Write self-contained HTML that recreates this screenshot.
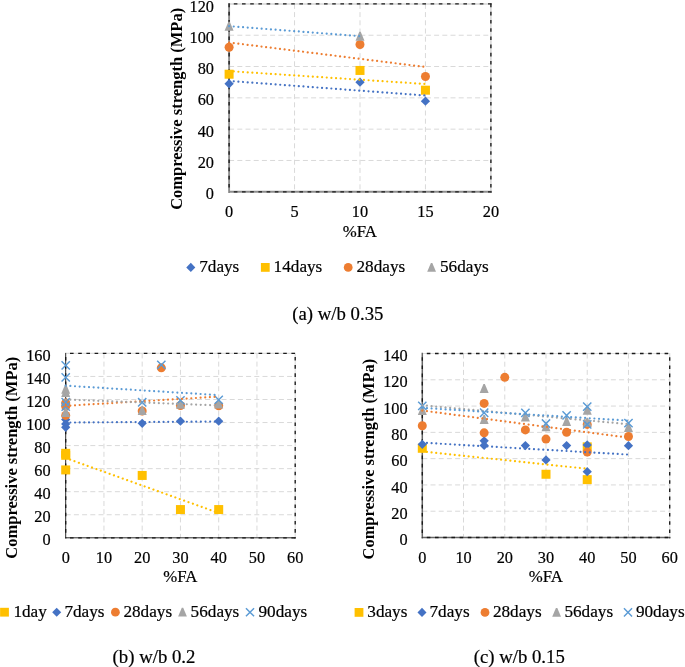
<!DOCTYPE html>
<html><head><meta charset="utf-8"><style>
html,body{margin:0;padding:0;background:#fff;}
svg{display:block;}
text{font-family:"Liberation Serif", serif;fill:#000;}
svg{will-change:transform} text{stroke:#000;stroke-width:0.2px} text[font-weight="bold"]{stroke:none}
</style></head><body>
<svg width="685" height="667" viewBox="0 0 685 667">
<rect width="685" height="667" fill="#fff"/>
<line x1="229.1" y1="160.48" x2="490.9" y2="160.48" stroke="#D9D9D9" stroke-width="1" stroke-dasharray="5 3.2"/>
<line x1="229.1" y1="129.17" x2="490.9" y2="129.17" stroke="#D9D9D9" stroke-width="1" stroke-dasharray="5 3.2"/>
<line x1="229.1" y1="97.85" x2="490.9" y2="97.85" stroke="#D9D9D9" stroke-width="1" stroke-dasharray="5 3.2"/>
<line x1="229.1" y1="66.53" x2="490.9" y2="66.53" stroke="#D9D9D9" stroke-width="1" stroke-dasharray="5 3.2"/>
<line x1="229.1" y1="35.22" x2="490.9" y2="35.22" stroke="#D9D9D9" stroke-width="1" stroke-dasharray="5 3.2"/>
<line x1="294.55" y1="3.9" x2="294.55" y2="191.8" stroke="#D9D9D9" stroke-width="1" stroke-dasharray="5 3.2"/>
<line x1="360.00" y1="3.9" x2="360.00" y2="191.8" stroke="#D9D9D9" stroke-width="1" stroke-dasharray="5 3.2"/>
<line x1="425.45" y1="3.9" x2="425.45" y2="191.8" stroke="#D9D9D9" stroke-width="1" stroke-dasharray="5 3.2"/>
<path d="M229.1 3.9H490.9V191.8" fill="none" stroke="#D6D6D6" stroke-width="1.5"/>
<path d="M490.9 191.8H229.1V3.9" fill="none" stroke="#8E8E8E" stroke-width="1.9" stroke-linecap="square"/>
<line x1="229.1" y1="3.9" x2="491.7" y2="3.9" stroke="#1a1a1a" stroke-width="1.35" stroke-dasharray="3.6 4.6" stroke-dashoffset="3.499999999999999"/>
<line x1="229.1" y1="191.8" x2="491.7" y2="191.8" stroke="#1a1a1a" stroke-width="1.35" stroke-dasharray="3.6 4.6" stroke-dashoffset="3.499999999999999"/>
<line x1="229.1" y1="3.60" x2="229.1" y2="192.60000000000002" stroke="#1a1a1a" stroke-width="1.35" stroke-dasharray="3.6 4.6"/>
<line x1="490.9" y1="3.60" x2="490.9" y2="192.60000000000002" stroke="#1a1a1a" stroke-width="1.35" stroke-dasharray="3.6 4.6"/>
<path d="M229.10 79.12L233.73 83.76L229.10 88.39L224.47 83.76Z" fill="#4472C4"/>
<path d="M360.00 77.56L364.63 82.19L360.00 86.83L355.37 82.19Z" fill="#4472C4"/>
<path d="M425.45 96.50L430.08 101.14L425.45 105.77L420.81 101.14Z" fill="#4472C4"/>
<rect x="224.60" y="69.71" width="9.00" height="9.00" fill="#FFC000"/>
<rect x="355.50" y="65.95" width="9.00" height="9.00" fill="#FFC000"/>
<rect x="420.95" y="85.68" width="9.00" height="9.00" fill="#FFC000"/>
<circle cx="229.10" cy="47.27" r="4.50" fill="#ED7D31"/>
<circle cx="360.00" cy="44.46" r="4.50" fill="#ED7D31"/>
<circle cx="425.45" cy="76.55" r="4.50" fill="#ED7D31"/>
<path d="M228.40 21.63L229.80 21.63L233.60 30.63L224.60 30.63Z" fill="#A5A5A5"/>
<path d="M359.30 31.66L360.70 31.66L364.50 40.66L355.50 40.66Z" fill="#A5A5A5"/>
<line x1="229.10" y1="80.94" x2="425.45" y2="95.50" stroke="#4472C4" stroke-width="2.2" stroke-dasharray="0.01 4.65" stroke-linecap="round"/>
<line x1="229.10" y1="71.12" x2="425.45" y2="84.00" stroke="#FFC000" stroke-width="2.2" stroke-dasharray="0.01 4.65" stroke-linecap="round"/>
<line x1="229.10" y1="42.49" x2="425.45" y2="66.98" stroke="#ED7D31" stroke-width="2.2" stroke-dasharray="0.01 4.65" stroke-linecap="round"/>
<line x1="229.10" y1="26.13" x2="360.00" y2="36.16" stroke="#5B9BD5" stroke-width="2.2" stroke-dasharray="0.01 4.65" stroke-linecap="round"/>
<text x="214.0" y="199.40" text-anchor="end" font-size="16.3">0</text>
<text x="214.0" y="168.08" text-anchor="end" font-size="16.3">20</text>
<text x="214.0" y="136.77" text-anchor="end" font-size="16.3">40</text>
<text x="214.0" y="105.45" text-anchor="end" font-size="16.3">60</text>
<text x="214.0" y="74.13" text-anchor="end" font-size="16.3">80</text>
<text x="214.0" y="42.82" text-anchor="end" font-size="16.3">100</text>
<text x="214.0" y="11.50" text-anchor="end" font-size="16.3">120</text>
<text x="229.10" y="217.4" text-anchor="middle" font-size="16.3">0</text>
<text x="294.55" y="217.4" text-anchor="middle" font-size="16.3">5</text>
<text x="360.00" y="217.4" text-anchor="middle" font-size="16.3">10</text>
<text x="425.45" y="217.4" text-anchor="middle" font-size="16.3">15</text>
<text x="490.90" y="217.4" text-anchor="middle" font-size="16.3">20</text>
<text x="359.9" y="236.6" text-anchor="middle" font-size="16.8">%FA</text>
<text transform="translate(181.6,209.8) rotate(-90)" font-size="16.5" font-weight="bold">Compressive strength (MPa)</text>
<path d="M190.80 262.87L195.33 267.40L190.80 271.93L186.27 267.40Z" fill="#4472C4"/>
<text x="199.20" y="271.8" font-size="17.2">7days</text>
<rect x="260.90" y="263.00" width="8.80" height="8.80" fill="#FFC000"/>
<text x="273.60" y="271.8" font-size="17.2">14days</text>
<circle cx="348.20" cy="267.40" r="4.40" fill="#ED7D31"/>
<text x="356.50" y="271.8" font-size="17.2">28days</text>
<path d="M430.90 263.00L432.30 263.00L436.00 271.80L427.20 271.80Z" fill="#A5A5A5"/>
<text x="440.00" y="271.8" font-size="17.2">56days</text>
<text x="292.30" y="320.2" font-size="18.75">(a) w/b 0.35</text>
<line x1="65.7" y1="514.75" x2="295.2" y2="514.75" stroke="#D9D9D9" stroke-width="1" stroke-dasharray="5 3.2"/>
<line x1="65.7" y1="491.70" x2="295.2" y2="491.70" stroke="#D9D9D9" stroke-width="1" stroke-dasharray="5 3.2"/>
<line x1="65.7" y1="468.65" x2="295.2" y2="468.65" stroke="#D9D9D9" stroke-width="1" stroke-dasharray="5 3.2"/>
<line x1="65.7" y1="445.60" x2="295.2" y2="445.60" stroke="#D9D9D9" stroke-width="1" stroke-dasharray="5 3.2"/>
<line x1="65.7" y1="422.55" x2="295.2" y2="422.55" stroke="#D9D9D9" stroke-width="1" stroke-dasharray="5 3.2"/>
<line x1="65.7" y1="399.50" x2="295.2" y2="399.50" stroke="#D9D9D9" stroke-width="1" stroke-dasharray="5 3.2"/>
<line x1="65.7" y1="376.45" x2="295.2" y2="376.45" stroke="#D9D9D9" stroke-width="1" stroke-dasharray="5 3.2"/>
<line x1="103.95" y1="353.4" x2="103.95" y2="537.8" stroke="#D9D9D9" stroke-width="1" stroke-dasharray="5 3.2"/>
<line x1="142.20" y1="353.4" x2="142.20" y2="537.8" stroke="#D9D9D9" stroke-width="1" stroke-dasharray="5 3.2"/>
<line x1="180.45" y1="353.4" x2="180.45" y2="537.8" stroke="#D9D9D9" stroke-width="1" stroke-dasharray="5 3.2"/>
<line x1="218.70" y1="353.4" x2="218.70" y2="537.8" stroke="#D9D9D9" stroke-width="1" stroke-dasharray="5 3.2"/>
<line x1="256.95" y1="353.4" x2="256.95" y2="537.8" stroke="#D9D9D9" stroke-width="1" stroke-dasharray="5 3.2"/>
<path d="M65.7 353.4H295.2V537.8" fill="none" stroke="#DEDEDE" stroke-width="1.2"/>
<path d="M295.2 537.8H65.7V353.4" fill="none" stroke="#2a2a2a" stroke-width="1.0" stroke-linecap="square"/>
<line x1="65.7" y1="353.4" x2="296.0" y2="353.4" stroke="#1a1a1a" stroke-width="1.35" stroke-dasharray="3.6 4.6" stroke-dashoffset="3.8999999999999995"/>
<line x1="65.7" y1="537.8" x2="296.0" y2="537.8" stroke="#1a1a1a" stroke-width="1.35" stroke-dasharray="3.6 4.6" stroke-dashoffset="3.8999999999999995"/>
<line x1="65.7" y1="356.90" x2="65.7" y2="538.5999999999999" stroke="#1a1a1a" stroke-width="1.35" stroke-dasharray="3.6 4.6"/>
<line x1="295.2" y1="356.90" x2="295.2" y2="538.5999999999999" stroke="#1a1a1a" stroke-width="1.35" stroke-dasharray="3.6 4.6"/>
<rect x="61.20" y="448.82" width="9.00" height="9.00" fill="#FFC000"/>
<rect x="61.20" y="450.78" width="9.00" height="9.00" fill="#FFC000"/>
<rect x="61.20" y="465.42" width="9.00" height="9.00" fill="#FFC000"/>
<rect x="137.70" y="470.95" width="9.00" height="9.00" fill="#FFC000"/>
<rect x="175.95" y="505.06" width="9.00" height="9.00" fill="#FFC000"/>
<rect x="214.20" y="505.06" width="9.00" height="9.00" fill="#FFC000"/>
<path d="M65.70 414.92L70.34 419.55L65.70 424.19L61.07 419.55Z" fill="#4472C4"/>
<path d="M65.70 419.30L70.34 423.93L65.70 428.57L61.07 423.93Z" fill="#4472C4"/>
<path d="M65.70 422.64L70.34 427.28L65.70 431.91L61.07 427.28Z" fill="#4472C4"/>
<path d="M142.20 418.72L146.83 423.36L142.20 427.99L137.56 423.36Z" fill="#4472C4"/>
<path d="M180.45 416.53L185.08 421.17L180.45 425.80L175.81 421.17Z" fill="#4472C4"/>
<path d="M218.70 416.53L223.33 421.17L218.70 425.80L214.06 421.17Z" fill="#4472C4"/>
<circle cx="65.70" cy="402.96" r="4.50" fill="#ED7D31"/>
<circle cx="65.70" cy="406.41" r="4.50" fill="#ED7D31"/>
<circle cx="65.70" cy="415.40" r="4.50" fill="#ED7D31"/>
<circle cx="142.20" cy="411.02" r="4.50" fill="#ED7D31"/>
<circle cx="161.32" cy="367.81" r="4.50" fill="#ED7D31"/>
<circle cx="180.45" cy="405.49" r="4.50" fill="#ED7D31"/>
<circle cx="218.70" cy="405.72" r="4.50" fill="#ED7D31"/>
<path d="M65.00 384.63L66.40 384.63L70.20 393.63L61.20 393.63Z" fill="#A5A5A5"/>
<path d="M65.00 388.08L66.40 388.08L70.20 397.08L61.20 397.08Z" fill="#A5A5A5"/>
<path d="M65.00 408.02L66.40 408.02L70.20 417.02L61.20 417.02Z" fill="#A5A5A5"/>
<path d="M141.50 405.95L142.90 405.95L146.70 414.95L137.70 414.95Z" fill="#A5A5A5"/>
<path d="M179.75 399.84L181.15 399.84L184.95 408.84L175.95 408.84Z" fill="#A5A5A5"/>
<path d="M218.00 399.61L219.40 399.61L223.20 408.61L214.20 408.61Z" fill="#A5A5A5"/>
<path d="M61.56 361.25L69.84 369.53M69.84 361.25L61.56 369.53" stroke="#5B9BD5" stroke-width="1.45" fill="none"/>
<path d="M61.56 373.23L69.84 381.51M69.84 373.23L61.56 381.51" stroke="#5B9BD5" stroke-width="1.45" fill="none"/>
<path d="M61.56 397.90L69.84 406.18M69.84 397.90L61.56 406.18" stroke="#5B9BD5" stroke-width="1.45" fill="none"/>
<path d="M61.56 402.51L69.84 410.79M69.84 402.51L61.56 410.79" stroke="#5B9BD5" stroke-width="1.45" fill="none"/>
<path d="M138.06 398.13L146.34 406.41M146.34 398.13L138.06 406.41" stroke="#5B9BD5" stroke-width="1.45" fill="none"/>
<path d="M157.19 360.78L165.46 369.06M165.46 360.78L157.19 369.06" stroke="#5B9BD5" stroke-width="1.45" fill="none"/>
<path d="M176.31 396.17L184.59 404.45M184.59 396.17L176.31 404.45" stroke="#5B9BD5" stroke-width="1.45" fill="none"/>
<path d="M214.56 395.82L222.84 404.10M222.84 395.82L214.56 404.10" stroke="#5B9BD5" stroke-width="1.45" fill="none"/>
<line x1="65.70" y1="458.05" x2="218.70" y2="513.02" stroke="#FFC000" stroke-width="2.2" stroke-dasharray="0.01 4.65" stroke-linecap="round"/>
<line x1="65.70" y1="422.55" x2="218.70" y2="421.51" stroke="#4472C4" stroke-width="2.2" stroke-dasharray="0.01 4.65" stroke-linecap="round"/>
<line x1="65.70" y1="405.84" x2="218.70" y2="396.62" stroke="#ED7D31" stroke-width="2.2" stroke-dasharray="0.01 4.65" stroke-linecap="round"/>
<line x1="65.70" y1="399.50" x2="218.70" y2="405.49" stroke="#A5A5A5" stroke-width="2.2" stroke-dasharray="0.01 4.65" stroke-linecap="round"/>
<line x1="65.70" y1="385.67" x2="218.70" y2="395.12" stroke="#5B9BD5" stroke-width="2.2" stroke-dasharray="0.01 4.65" stroke-linecap="round"/>
<text x="50.6" y="545.40" text-anchor="end" font-size="16.3">0</text>
<text x="50.6" y="522.35" text-anchor="end" font-size="16.3">20</text>
<text x="50.6" y="499.30" text-anchor="end" font-size="16.3">40</text>
<text x="50.6" y="476.25" text-anchor="end" font-size="16.3">60</text>
<text x="50.6" y="453.20" text-anchor="end" font-size="16.3">80</text>
<text x="50.6" y="430.15" text-anchor="end" font-size="16.3">100</text>
<text x="50.6" y="407.10" text-anchor="end" font-size="16.3">120</text>
<text x="50.6" y="384.05" text-anchor="end" font-size="16.3">140</text>
<text x="50.6" y="361.00" text-anchor="end" font-size="16.3">160</text>
<text x="65.70" y="563.2" text-anchor="middle" font-size="16.3">0</text>
<text x="103.95" y="563.2" text-anchor="middle" font-size="16.3">10</text>
<text x="142.20" y="563.2" text-anchor="middle" font-size="16.3">20</text>
<text x="180.45" y="563.2" text-anchor="middle" font-size="16.3">30</text>
<text x="218.70" y="563.2" text-anchor="middle" font-size="16.3">40</text>
<text x="256.95" y="563.2" text-anchor="middle" font-size="16.3">50</text>
<text x="295.20" y="563.2" text-anchor="middle" font-size="16.3">60</text>
<text x="180.25" y="582.3" text-anchor="middle" font-size="16.8">%FA</text>
<text transform="translate(17.4,558.7) rotate(-90)" font-size="16.5" font-weight="bold">Compressive strength (MPa)</text>
<rect x="0.10" y="607.80" width="8.80" height="8.80" fill="#FFC000"/>
<text x="13.40" y="616.8" font-size="17.2">1day</text>
<path d="M56.70 607.67L61.23 612.20L56.70 616.73L52.17 612.20Z" fill="#4472C4"/>
<text x="64.40" y="616.8" font-size="17.2">7days</text>
<circle cx="115.40" cy="612.20" r="4.40" fill="#ED7D31"/>
<text x="123.40" y="616.8" font-size="17.2">28days</text>
<path d="M181.80 607.80L183.20 607.80L186.90 616.60L178.10 616.60Z" fill="#A5A5A5"/>
<text x="190.60" y="616.8" font-size="17.2">56days</text>
<path d="M245.95 608.15L254.05 616.25M254.05 608.15L245.95 616.25" stroke="#5B9BD5" stroke-width="1.45" fill="none"/>
<text x="258.50" y="616.8" font-size="17.2">90days</text>
<text x="112.60" y="662.5" font-size="18.75">(b) w/b 0.2</text>
<line x1="422.3" y1="511.21" x2="669.7" y2="511.21" stroke="#D9D9D9" stroke-width="1" stroke-dasharray="5 3.2"/>
<line x1="422.3" y1="484.93" x2="669.7" y2="484.93" stroke="#D9D9D9" stroke-width="1" stroke-dasharray="5 3.2"/>
<line x1="422.3" y1="458.64" x2="669.7" y2="458.64" stroke="#D9D9D9" stroke-width="1" stroke-dasharray="5 3.2"/>
<line x1="422.3" y1="432.36" x2="669.7" y2="432.36" stroke="#D9D9D9" stroke-width="1" stroke-dasharray="5 3.2"/>
<line x1="422.3" y1="406.07" x2="669.7" y2="406.07" stroke="#D9D9D9" stroke-width="1" stroke-dasharray="5 3.2"/>
<line x1="422.3" y1="379.79" x2="669.7" y2="379.79" stroke="#D9D9D9" stroke-width="1" stroke-dasharray="5 3.2"/>
<line x1="463.53" y1="353.5" x2="463.53" y2="537.5" stroke="#D9D9D9" stroke-width="1" stroke-dasharray="5 3.2"/>
<line x1="504.77" y1="353.5" x2="504.77" y2="537.5" stroke="#D9D9D9" stroke-width="1" stroke-dasharray="5 3.2"/>
<line x1="546.00" y1="353.5" x2="546.00" y2="537.5" stroke="#D9D9D9" stroke-width="1" stroke-dasharray="5 3.2"/>
<line x1="587.23" y1="353.5" x2="587.23" y2="537.5" stroke="#D9D9D9" stroke-width="1" stroke-dasharray="5 3.2"/>
<line x1="628.47" y1="353.5" x2="628.47" y2="537.5" stroke="#D9D9D9" stroke-width="1" stroke-dasharray="5 3.2"/>
<path d="M422.3 353.5H669.7V537.5" fill="none" stroke="#DEDEDE" stroke-width="1.2"/>
<path d="M669.7 537.5H422.3V353.5" fill="none" stroke="#666666" stroke-width="1.5" stroke-linecap="square"/>
<line x1="422.3" y1="353.5" x2="670.5" y2="353.5" stroke="#1a1a1a" stroke-width="1.35" stroke-dasharray="3.6 4.6" stroke-dashoffset="3.6999999999999993"/>
<line x1="422.3" y1="537.5" x2="670.5" y2="537.5" stroke="#1a1a1a" stroke-width="1.35" stroke-dasharray="3.6 4.6" stroke-dashoffset="3.6999999999999993"/>
<line x1="422.3" y1="357.20" x2="422.3" y2="538.3" stroke="#1a1a1a" stroke-width="1.35" stroke-dasharray="3.6 4.6"/>
<line x1="669.7" y1="357.20" x2="669.7" y2="538.3" stroke="#1a1a1a" stroke-width="1.35" stroke-dasharray="3.6 4.6"/>
<rect x="417.80" y="443.79" width="9.00" height="9.00" fill="#FFC000"/>
<rect x="541.50" y="469.76" width="9.00" height="9.00" fill="#FFC000"/>
<rect x="582.73" y="442.35" width="9.00" height="9.00" fill="#FFC000"/>
<rect x="582.73" y="475.14" width="9.00" height="9.00" fill="#FFC000"/>
<path d="M422.30 439.72L426.94 444.36L422.30 448.99L417.67 444.36Z" fill="#4472C4"/>
<path d="M484.15 436.18L488.79 440.82L484.15 445.45L479.52 440.82Z" fill="#4472C4"/>
<path d="M484.15 440.77L488.79 445.41L484.15 450.04L479.52 445.41Z" fill="#4472C4"/>
<path d="M525.38 440.90L530.02 445.54L525.38 450.17L520.75 445.54Z" fill="#4472C4"/>
<path d="M546.00 455.33L550.63 459.97L546.00 464.60L541.37 459.97Z" fill="#4472C4"/>
<path d="M566.62 440.90L571.25 445.54L566.62 450.17L561.98 445.54Z" fill="#4472C4"/>
<path d="M587.23 440.25L591.87 444.88L587.23 449.52L582.60 444.88Z" fill="#4472C4"/>
<path d="M587.23 467.00L591.87 471.64L587.23 476.27L582.60 471.64Z" fill="#4472C4"/>
<path d="M628.47 441.04L633.10 445.67L628.47 450.31L623.83 445.67Z" fill="#4472C4"/>
<circle cx="422.30" cy="425.74" r="4.50" fill="#ED7D31"/>
<circle cx="484.15" cy="403.44" r="4.50" fill="#ED7D31"/>
<circle cx="484.15" cy="432.82" r="4.50" fill="#ED7D31"/>
<circle cx="504.77" cy="377.35" r="4.50" fill="#ED7D31"/>
<circle cx="525.38" cy="429.93" r="4.50" fill="#ED7D31"/>
<circle cx="546.00" cy="439.11" r="4.50" fill="#ED7D31"/>
<circle cx="566.62" cy="432.29" r="4.50" fill="#ED7D31"/>
<circle cx="587.23" cy="424.43" r="4.50" fill="#ED7D31"/>
<circle cx="587.23" cy="452.10" r="4.50" fill="#ED7D31"/>
<circle cx="628.47" cy="436.49" r="4.50" fill="#ED7D31"/>
<path d="M421.60 405.89L423.00 405.89L426.80 414.89L417.80 414.89Z" fill="#A5A5A5"/>
<path d="M483.45 383.99L484.85 383.99L488.65 392.99L479.65 392.99Z" fill="#A5A5A5"/>
<path d="M483.45 415.07L484.85 415.07L488.65 424.07L479.65 424.07Z" fill="#A5A5A5"/>
<path d="M524.68 412.45L526.08 412.45L529.88 421.45L520.88 421.45Z" fill="#A5A5A5"/>
<path d="M545.30 422.29L546.70 422.29L550.50 431.29L541.50 431.29Z" fill="#A5A5A5"/>
<path d="M565.92 417.04L567.32 417.04L571.12 426.04L562.12 426.04Z" fill="#A5A5A5"/>
<path d="M586.53 405.63L587.93 405.63L591.73 414.63L582.73 414.63Z" fill="#A5A5A5"/>
<path d="M586.53 417.70L587.93 417.70L591.73 426.70L582.73 426.70Z" fill="#A5A5A5"/>
<path d="M627.77 422.94L629.17 422.94L632.97 431.94L623.97 431.94Z" fill="#A5A5A5"/>
<path d="M418.16 401.80L426.44 410.08M426.44 401.80L418.16 410.08" stroke="#5B9BD5" stroke-width="1.45" fill="none"/>
<path d="M480.01 408.61L488.29 416.89M488.29 408.61L480.01 416.89" stroke="#5B9BD5" stroke-width="1.45" fill="none"/>
<path d="M521.24 408.75L529.52 417.03M529.52 408.75L521.24 417.03" stroke="#5B9BD5" stroke-width="1.45" fill="none"/>
<path d="M541.86 419.37L550.14 427.65M550.14 419.37L541.86 427.65" stroke="#5B9BD5" stroke-width="1.45" fill="none"/>
<path d="M562.48 411.24L570.76 419.52M570.76 411.24L562.48 419.52" stroke="#5B9BD5" stroke-width="1.45" fill="none"/>
<path d="M583.09 402.45L591.37 410.73M591.37 402.45L583.09 410.73" stroke="#5B9BD5" stroke-width="1.45" fill="none"/>
<path d="M583.09 420.29L591.37 428.57M591.37 420.29L583.09 428.57" stroke="#5B9BD5" stroke-width="1.45" fill="none"/>
<path d="M624.33 418.97L632.61 427.25M632.61 418.97L624.33 427.25" stroke="#5B9BD5" stroke-width="1.45" fill="none"/>
<line x1="422.30" y1="451.44" x2="587.23" y2="468.75" stroke="#FFC000" stroke-width="2.2" stroke-dasharray="0.01 4.65" stroke-linecap="round"/>
<line x1="422.30" y1="442.65" x2="628.47" y2="454.59" stroke="#4472C4" stroke-width="2.2" stroke-dasharray="0.01 4.65" stroke-linecap="round"/>
<line x1="422.30" y1="410.53" x2="628.47" y2="437.67" stroke="#ED7D31" stroke-width="2.2" stroke-dasharray="0.01 4.65" stroke-linecap="round"/>
<line x1="422.30" y1="405.28" x2="628.47" y2="424.16" stroke="#A5A5A5" stroke-width="2.2" stroke-dasharray="0.01 4.65" stroke-linecap="round"/>
<line x1="422.30" y1="407.90" x2="628.47" y2="420.62" stroke="#5B9BD5" stroke-width="2.2" stroke-dasharray="0.01 4.65" stroke-linecap="round"/>
<text x="407.6" y="545.10" text-anchor="end" font-size="16.3">0</text>
<text x="407.6" y="518.81" text-anchor="end" font-size="16.3">20</text>
<text x="407.6" y="492.53" text-anchor="end" font-size="16.3">40</text>
<text x="407.6" y="466.24" text-anchor="end" font-size="16.3">60</text>
<text x="407.6" y="439.96" text-anchor="end" font-size="16.3">80</text>
<text x="407.6" y="413.67" text-anchor="end" font-size="16.3">100</text>
<text x="407.6" y="387.39" text-anchor="end" font-size="16.3">120</text>
<text x="407.6" y="361.10" text-anchor="end" font-size="16.3">140</text>
<text x="422.30" y="563.2" text-anchor="middle" font-size="16.3">0</text>
<text x="463.53" y="563.2" text-anchor="middle" font-size="16.3">10</text>
<text x="504.77" y="563.2" text-anchor="middle" font-size="16.3">20</text>
<text x="546.00" y="563.2" text-anchor="middle" font-size="16.3">30</text>
<text x="587.23" y="563.2" text-anchor="middle" font-size="16.3">40</text>
<text x="628.47" y="563.2" text-anchor="middle" font-size="16.3">50</text>
<text x="669.70" y="563.2" text-anchor="middle" font-size="16.3">60</text>
<text x="545.85" y="582.3" text-anchor="middle" font-size="16.8">%FA</text>
<text transform="translate(374.0,559.4) rotate(-90)" font-size="16.4" font-weight="bold">Compressive strength (MPa)</text>
<rect x="354.60" y="608.00" width="8.80" height="8.80" fill="#FFC000"/>
<text x="367.30" y="616.8" font-size="17.2">3days</text>
<path d="M422.00 607.87L426.53 612.40L422.00 616.93L417.47 612.40Z" fill="#4472C4"/>
<text x="429.50" y="616.8" font-size="17.2">7days</text>
<circle cx="485.00" cy="612.40" r="4.40" fill="#ED7D31"/>
<text x="492.90" y="616.8" font-size="17.2">28days</text>
<path d="M555.90 608.00L557.30 608.00L561.00 616.80L552.20 616.80Z" fill="#A5A5A5"/>
<text x="564.40" y="616.8" font-size="17.2">56days</text>
<path d="M623.95 608.35L632.05 616.45M632.05 608.35L623.95 616.45" stroke="#5B9BD5" stroke-width="1.45" fill="none"/>
<text x="635.90" y="616.8" font-size="17.2">90days</text>
<text x="473.70" y="662.5" font-size="18.75">(c) w/b 0.15</text>
</svg></body></html>
